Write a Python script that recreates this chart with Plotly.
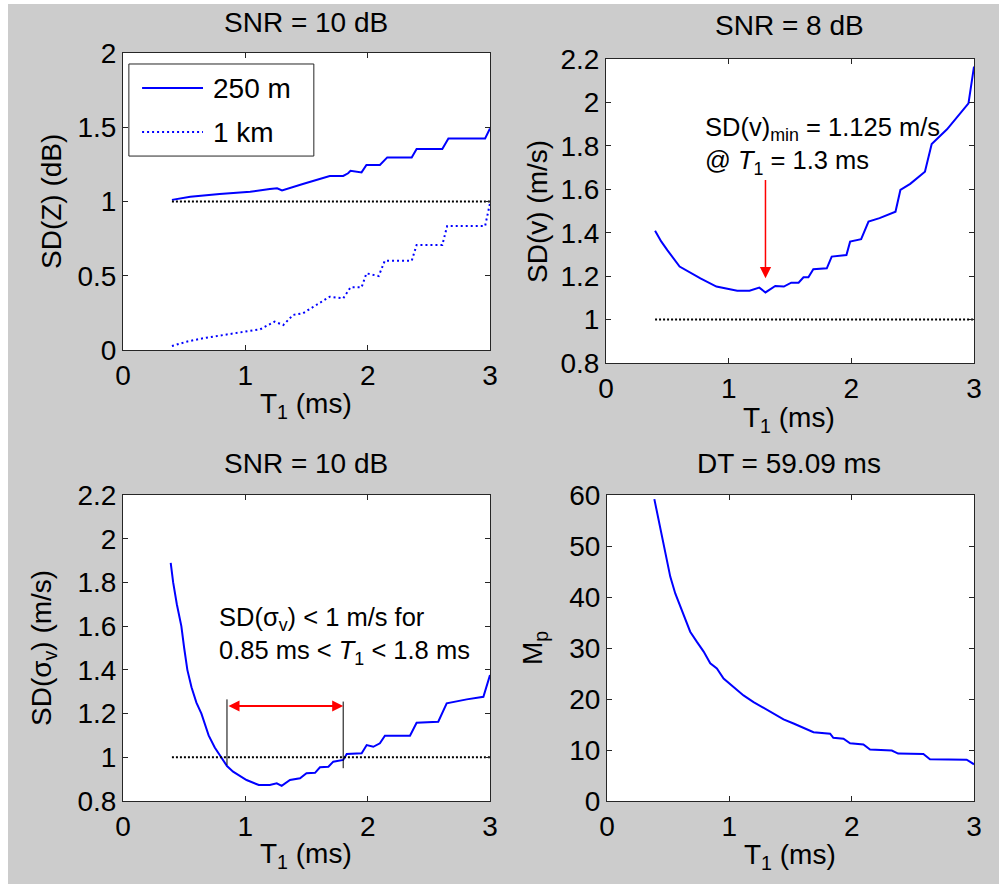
import plotly.graph_objects as go

W, H = 999, 884
FONT = "Arial, 'Liberation Sans', sans-serif"
INK = "#000000"
AXIS = "#262626"
BLUE = "#0000ff"
FS = 28        # titles, axis labels, ticks, legend
FS_NOTE = 25.5  # callout text

# ---- SD(Z) versus T1, SNR = 10 dB ----
t_250m = [0.40, 0.55, 0.79, 1.04, 1.20, 1.26, 1.30, 1.39, 1.47, 1.58, 1.69, 1.80,
          1.84, 1.86, 1.95, 1.99, 2.10, 2.16, 2.36, 2.40, 2.61, 2.66, 2.96, 3.00]
sdz_250m = [1.011, 1.032, 1.050, 1.066, 1.084, 1.089, 1.075, 1.100, 1.118, 1.145, 1.172, 1.172,
            1.190, 1.207, 1.196, 1.246, 1.246, 1.297, 1.297, 1.353, 1.353, 1.425, 1.425, 1.492]
t_1km = [0.40, 0.52, 0.68, 0.90, 1.12, 1.24, 1.31, 1.39, 1.47, 1.58, 1.69, 1.80,
         1.86, 1.95, 1.99, 2.09, 2.14, 2.36, 2.40, 2.61, 2.65, 2.96, 3.00]
sdz_1km = [0.027, 0.056, 0.083, 0.112, 0.139, 0.191, 0.168, 0.236, 0.247, 0.303, 0.359, 0.348,
           0.422, 0.422, 0.516, 0.498, 0.601, 0.601, 0.707, 0.707, 0.835, 0.835, 0.988]

# ---- SD(v) versus T1, SNR = 8 dB ----
t_v = [0.40, 0.45, 0.50, 0.60, 0.77, 0.90, 1.07, 1.17, 1.25, 1.30, 1.38, 1.45, 1.51, 1.57,
       1.61, 1.65, 1.69, 1.80, 1.84, 1.96, 1.99, 2.08, 2.14, 2.23, 2.36, 2.40, 2.48, 2.60,
       2.655, 2.78, 2.955, 2.97, 3.00]
sd_v = [1.409, 1.360, 1.320, 1.244, 1.190, 1.152, 1.133, 1.133, 1.147, 1.125, 1.155, 1.152,
        1.170, 1.170, 1.195, 1.195, 1.232, 1.236, 1.290, 1.297, 1.359, 1.370, 1.451, 1.467,
        1.497, 1.597, 1.625, 1.681, 1.809, 1.876, 1.996, 2.060, 2.165]
v_min, t_at_min = 1.125, 1.3

# ---- SD(sigma_v) versus T1, SNR = 10 dB ----
t_sig = [0.39, 0.41, 0.44, 0.477, 0.50, 0.526, 0.56, 0.60, 0.641, 0.70, 0.75, 0.80, 0.85,
         0.90, 1.01, 1.11, 1.20, 1.257, 1.297, 1.365, 1.447, 1.50, 1.57, 1.61, 1.679, 1.719,
         1.80, 1.829, 1.951, 1.992, 2.046, 2.10, 2.141, 2.346, 2.40, 2.577, 2.646, 2.81,
         2.946, 3.00]
sd_sig = [1.890, 1.800, 1.700, 1.600, 1.500, 1.400, 1.320, 1.250, 1.200, 1.100, 1.045, 1.000,
          0.960, 0.934, 0.896, 0.873, 0.873, 0.881, 0.869, 0.896, 0.904, 0.927, 0.929, 0.954,
          0.957, 0.980, 0.988, 1.015, 1.018, 1.056, 1.048, 1.064, 1.099, 1.099, 1.158, 1.163,
          1.247, 1.265, 1.277, 1.376]
t_low, t_high = 0.85, 1.8

# ---- Number of pulses M_p versus T1, DT = 59.09 ms ----
t_mp = [0.387, 0.422, 0.463, 0.49, 0.517, 0.558, 0.613, 0.68, 0.735, 0.79, 0.844, 0.898,
        0.953, 1.035, 1.116, 1.198, 1.28, 1.36, 1.443, 1.525, 1.606, 1.688, 1.824, 1.85,
        1.933, 1.987, 2.096, 2.15, 2.328, 2.38, 2.586, 2.64, 2.94, 3.0]
mp = [59.2, 55.1, 49.9, 46.6, 44.0, 40.7, 37.4, 33.2, 31.2, 29.3, 27.0, 26.0, 24.0, 22.4,
      20.7, 19.4, 18.3, 17.1, 16.0, 15.2, 14.4, 13.5, 13.2, 12.4, 12.2, 11.3, 11.1, 10.1,
      9.9, 9.3, 9.2, 8.2, 8.1, 7.2]

# Unit reference level
ref_t = [0.4, 3.0]
ref_level = [1.0, 1.0]

x_ticks = [0, 1, 2, 3]
x_ticktext = ["0", "1", "2", "3"]
yz_ticks = [0, 0.5, 1, 1.5, 2]
yz_text = ["0", "0.5", "1", "1.5", "2"]
yv_ticks = [0.8, 1.0, 1.2, 1.4, 1.6, 1.8, 2.0, 2.2]
yv_text = ["0.8", "1", "1.2", "1.4", "1.6", "1.8", "2", "2.2"]
ymp_ticks = [0, 10, 20, 30, 40, 50, 60]
ymp_text = ["0", "10", "20", "30", "40", "50", "60"]

legend_names = ["250 m", "1 km"]


def px(x):
    return x / W


def py(y):
    return 1 - y / H


fig = go.Figure()

fig.add_trace(go.Scatter(x=t_250m, y=sdz_250m, mode="lines", name=legend_names[0],
                         line=dict(color=BLUE, width=2), xaxis="x", yaxis="y"))
fig.add_trace(go.Scatter(x=t_1km, y=sdz_1km, mode="lines", name=legend_names[1],
                         line=dict(color=BLUE, width=2, dash="2px,3px"), xaxis="x", yaxis="y"))
fig.add_trace(go.Scatter(x=ref_t, y=ref_level, mode="lines",
                         line=dict(color="black", width=2, dash="2px,2px"), xaxis="x", yaxis="y"))

fig.add_trace(go.Scatter(x=t_v, y=sd_v, mode="lines",
                         line=dict(color=BLUE, width=2), xaxis="x2", yaxis="y2"))
fig.add_trace(go.Scatter(x=ref_t, y=ref_level, mode="lines",
                         line=dict(color="black", width=2, dash="2px,2px"), xaxis="x2", yaxis="y2"))

fig.add_trace(go.Scatter(x=t_sig, y=sd_sig, mode="lines",
                         line=dict(color=BLUE, width=2), xaxis="x3", yaxis="y3"))
fig.add_trace(go.Scatter(x=ref_t, y=ref_level, mode="lines",
                         line=dict(color="black", width=2, dash="2px,2px"), xaxis="x3", yaxis="y3"))

fig.add_trace(go.Scatter(x=t_mp, y=mp, mode="lines",
                         line=dict(color=BLUE, width=2), xaxis="x4", yaxis="y4"))


def axis(rng, tickvals, ticktext, domain, anchor):
    return dict(range=rng, domain=domain, anchor=anchor, tickvals=tickvals, ticktext=ticktext,
                ticks="inside", ticklen=5, tickwidth=1, tickcolor=AXIS,
                showline=True, linecolor=AXIS, linewidth=1, mirror="ticks",
                showgrid=False, zeroline=False, fixedrange=True, automargin=False,
                tickfont=dict(family=FONT, size=FS, color=INK))


left_dom = [px(123), px(490)]
right_dom = [px(606), px(974)]

fig.update_layout(
    width=W, height=H, autosize=False,
    margin=dict(l=0, r=0, t=0, b=0, pad=0, autoexpand=False),
    paper_bgcolor="#cccccc", plot_bgcolor="white", showlegend=False,
    font=dict(family=FONT, color=INK),
    xaxis=axis([0, 3], x_ticks, x_ticktext, left_dom, "y"),
    yaxis=axis([0, 2], yz_ticks, yz_text, [py(350), py(53)], "x"),
    xaxis2=axis([0, 3], x_ticks, x_ticktext, right_dom, "y2"),
    yaxis2=axis([0.8, 2.2], yv_ticks, yv_text, [py(363), py(59)], "x2"),
    xaxis3=axis([0, 3], x_ticks, x_ticktext, left_dom, "y3"),
    yaxis3=axis([0.8, 2.2], yv_ticks, yv_text, [py(801), py(495)], "x3"),
    xaxis4=axis([0, 3], x_ticks, x_ticktext, [px(607), px(974)], "y4"),
    yaxis4=axis([0, 60], ymp_ticks, ymp_text, [py(801), py(495)], "x4"),
)

shapes = [
    # white page edge on the left and top
    dict(type="rect", xref="paper", yref="paper", x0=0, x1=px(8), y0=0, y1=1,
         fillcolor="white", line=dict(width=0), layer="below"),
    dict(type="rect", xref="paper", yref="paper", x0=0, x1=1, y0=py(4), y1=1,
         fillcolor="white", line=dict(width=0), layer="below"),
    # legend box for the SD(Z) panel
    dict(type="rect", xref="x domain", yref="y domain", x0=0.016, x1=0.52, y0=0.653, y1=0.963,
         fillcolor="white", line=dict(color=AXIS, width=1)),
    dict(type="line", xref="x domain", yref="y domain", x0=0.052, x1=0.218, y0=0.882, y1=0.882,
         line=dict(color=BLUE, width=2)),
    dict(type="line", xref="x domain", yref="y domain", x0=0.052, x1=0.218, y0=0.734, y1=0.734,
         line=dict(color=BLUE, width=2, dash="2px,3px")),
    # bracket marking the interval where SD(sigma_v) < 1 m/s
    dict(type="line", xref="x3", yref="y3", x0=t_low, x1=t_low, y0=0.965, y1=1.265,
         line=dict(color="black", width=1)),
    dict(type="line", xref="x3", yref="y3", x0=t_high, x1=t_high, y0=0.950, y1=1.255,
         line=dict(color="black", width=1)),
]
fig.update_layout(shapes=shapes)

ann = []


def text(x, y, s, size=FS, xanchor="center", yanchor="middle", angle=0, xref="paper", yref="paper"):
    ann.append(dict(x=x, y=y, xref=xref, yref=yref, text=s, showarrow=False,
                    xanchor=xanchor, yanchor=yanchor, textangle=angle, align="left",
                    font=dict(family=FONT, size=size, color=INK)))


# panel titles
text(px(306), py(22), "SNR = 10 dB")
text(px(789), py(25), "SNR = 8 dB")
text(px(306), py(463), "SNR = 10 dB")
text(px(789), py(463), "DT = 59.09 ms")

# x-axis titles
xlab = "T<sub>1</sub> (ms)"
text(px(306), py(406), xlab)
text(px(789), py(419), xlab)
text(px(306), py(855), xlab)
text(px(790), py(856), xlab)

# y-axis titles
text(px(52), py(202), "SD(Z) (dB)", angle=-90)
text(px(537), py(212), "SD(v) (m/s)", angle=-90)
text(px(43), py(648), "SD(σ<sub>v</sub>) (m/s)", angle=-90)
text(px(534), py(648), "M<sub>p</sub>", angle=-90)

# legend entries
for name, yd in zip(legend_names, [0.882, 0.734]):
    text(0.24, yd, name, xanchor="left", xref="x domain", yref="y domain")

# callouts
text(0.79, 1.96,
     f"SD(v)<sub>min</sub> = {v_min} m/s<br>@ <i>T</i><sub>1</sub> = {t_at_min} ms",
     size=FS_NOTE, xanchor="left", yanchor="top", xref="x2", yref="y2")
text(0.77, 1.715,
     f"SD(σ<sub>v</sub>) &lt; 1 m/s for<br>{t_low} ms &lt; <i>T</i><sub>1</sub> &lt; {t_high} ms",
     size=FS_NOTE, xanchor="left", yanchor="top", xref="x3", yref="y3")

# arrow pointing at the minimum of SD(v)
ann.append(dict(x=t_at_min, y=1.19, ax=t_at_min, ay=1.65, xref="x2", yref="y2",
                axref="x2", ayref="y2", text="", showarrow=True, arrowhead=2,
                arrowsize=1.5, arrowwidth=1.5, arrowcolor="red"))
# double arrow spanning the interval
ann.append(dict(x=t_high, y=1.235, ax=t_low, ay=1.235, xref="x3", yref="y3",
                axref="x3", ayref="y3", text="", showarrow=True, arrowhead=2,
                arrowside="end+start", arrowsize=1.1, arrowwidth=2, arrowcolor="red"))

fig.update_layout(annotations=ann)

fig.write_html("out.html")
